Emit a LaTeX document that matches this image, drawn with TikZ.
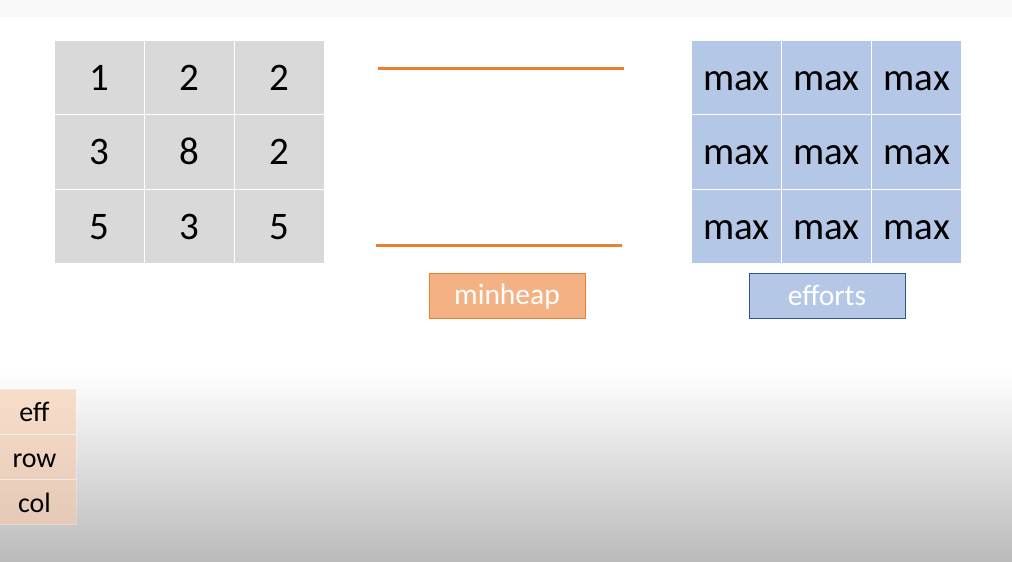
\documentclass[tikz,border=0pt]{standalone}
\usepackage{fontspec}
\setmainfont{Carlito}
\definecolor{cellgray}{HTML}{D9D9D9}
\definecolor{cellblue}{HTML}{B4C7E7}
\definecolor{heaporange}{HTML}{ED7D31}
\definecolor{heapfill}{HTML}{F4B183}
\definecolor{effborder}{HTML}{2F5597}
\definecolor{tuplefill}{HTML}{F8CBAD}
\definecolor{bandgray}{HTML}{F9F9F9}
\definecolor{shadegray}{HTML}{BABABA}
\begin{document}
\begin{tikzpicture}[x=1pt,y=-1pt,
  gridcell/.style={draw=white,line width=1.5pt,minimum width=90.33pt,minimum height=74.67pt,
    inner sep=0pt,text height=25.4pt,text depth=0pt,font=\fontsize{39}{40}\selectfont},
  graycell/.style={gridcell,fill=cellgray},
  bluecell/.style={gridcell,fill=cellblue},
  labelbox/.style={minimum width=156pt,minimum height=45pt,inner sep=0pt,text=white,
    text depth=0pt,font=\fontsize{29.5}{30}\selectfont},
  tuplecell/.style={fill=tuplefill,fill opacity=0.6,text opacity=1,draw=white,draw opacity=0.3,line width=1pt,
    minimum width=83pt,minimum height=45pt,inner sep=0pt,text height=20.5pt,text depth=0pt,
    font=\fontsize{28}{30}\selectfont},
  heapline/.style={draw=heaporange,line width=3pt}
]
\useasboundingbox (0,0) rectangle (1012,562);
% background
\fill[bandgray] (0,0) rectangle (1012,17);
\shade[top color=white,bottom color=shadegray] (0,372) rectangle (1012,562);

% grid
\node[graycell] (g11) at (99.2,77.3) {1};
\node[graycell] (g12) at (189.5,77.3) {2};
\node[graycell] (g13) at (279.8,77.3) {2};
\node[graycell] (g21) at (99.2,152) {3};
\node[graycell] (g22) at (189.5,152) {8};
\node[graycell] (g23) at (279.8,152) {2};
\node[graycell] (g31) at (99.2,226.7) {5};
\node[graycell] (g32) at (189.5,226.7) {3};
\node[graycell] (g33) at (279.8,226.7) {5};

% efforts grid
\node[bluecell] (e11) at (736.2,77.3) {max};
\node[bluecell] (e12) at (826.5,77.3) {max};
\node[bluecell] (e13) at (916.8,77.3) {max};
\node[bluecell] (e21) at (736.2,152) {max};
\node[bluecell] (e22) at (826.5,152) {max};
\node[bluecell] (e23) at (916.8,152) {max};
\node[bluecell] (e31) at (736.2,226.7) {max};
\node[bluecell] (e32) at (826.5,226.7) {max};
\node[bluecell] (e33) at (916.8,226.7) {max};

% heap lines
\coordinate (ht1) at (378,68);
\coordinate (ht2) at (624,68);
\coordinate (hb1) at (376,245);
\coordinate (hb2) at (622,245);
\draw[heapline] (ht1) -- (ht2);
\draw[heapline] (hb1) -- (hb2);

% labels
\node[labelbox,fill=heapfill,draw=heaporange,line width=0.8pt,text height=18pt] (minheap) at (507,295.5) {minheap};
\node[labelbox,fill=cellblue,draw=effborder,line width=0.8pt,text height=18pt] (efforts) at (827,296) {efforts};

% tuple
\node[tuplecell] (teff) at (34.5,411.5) {eff};
\node[tuplecell] (trow) at (34.5,457) {row};
\node[tuplecell] (tcol) at (34.5,502) {col};
\end{tikzpicture}
\end{document}
